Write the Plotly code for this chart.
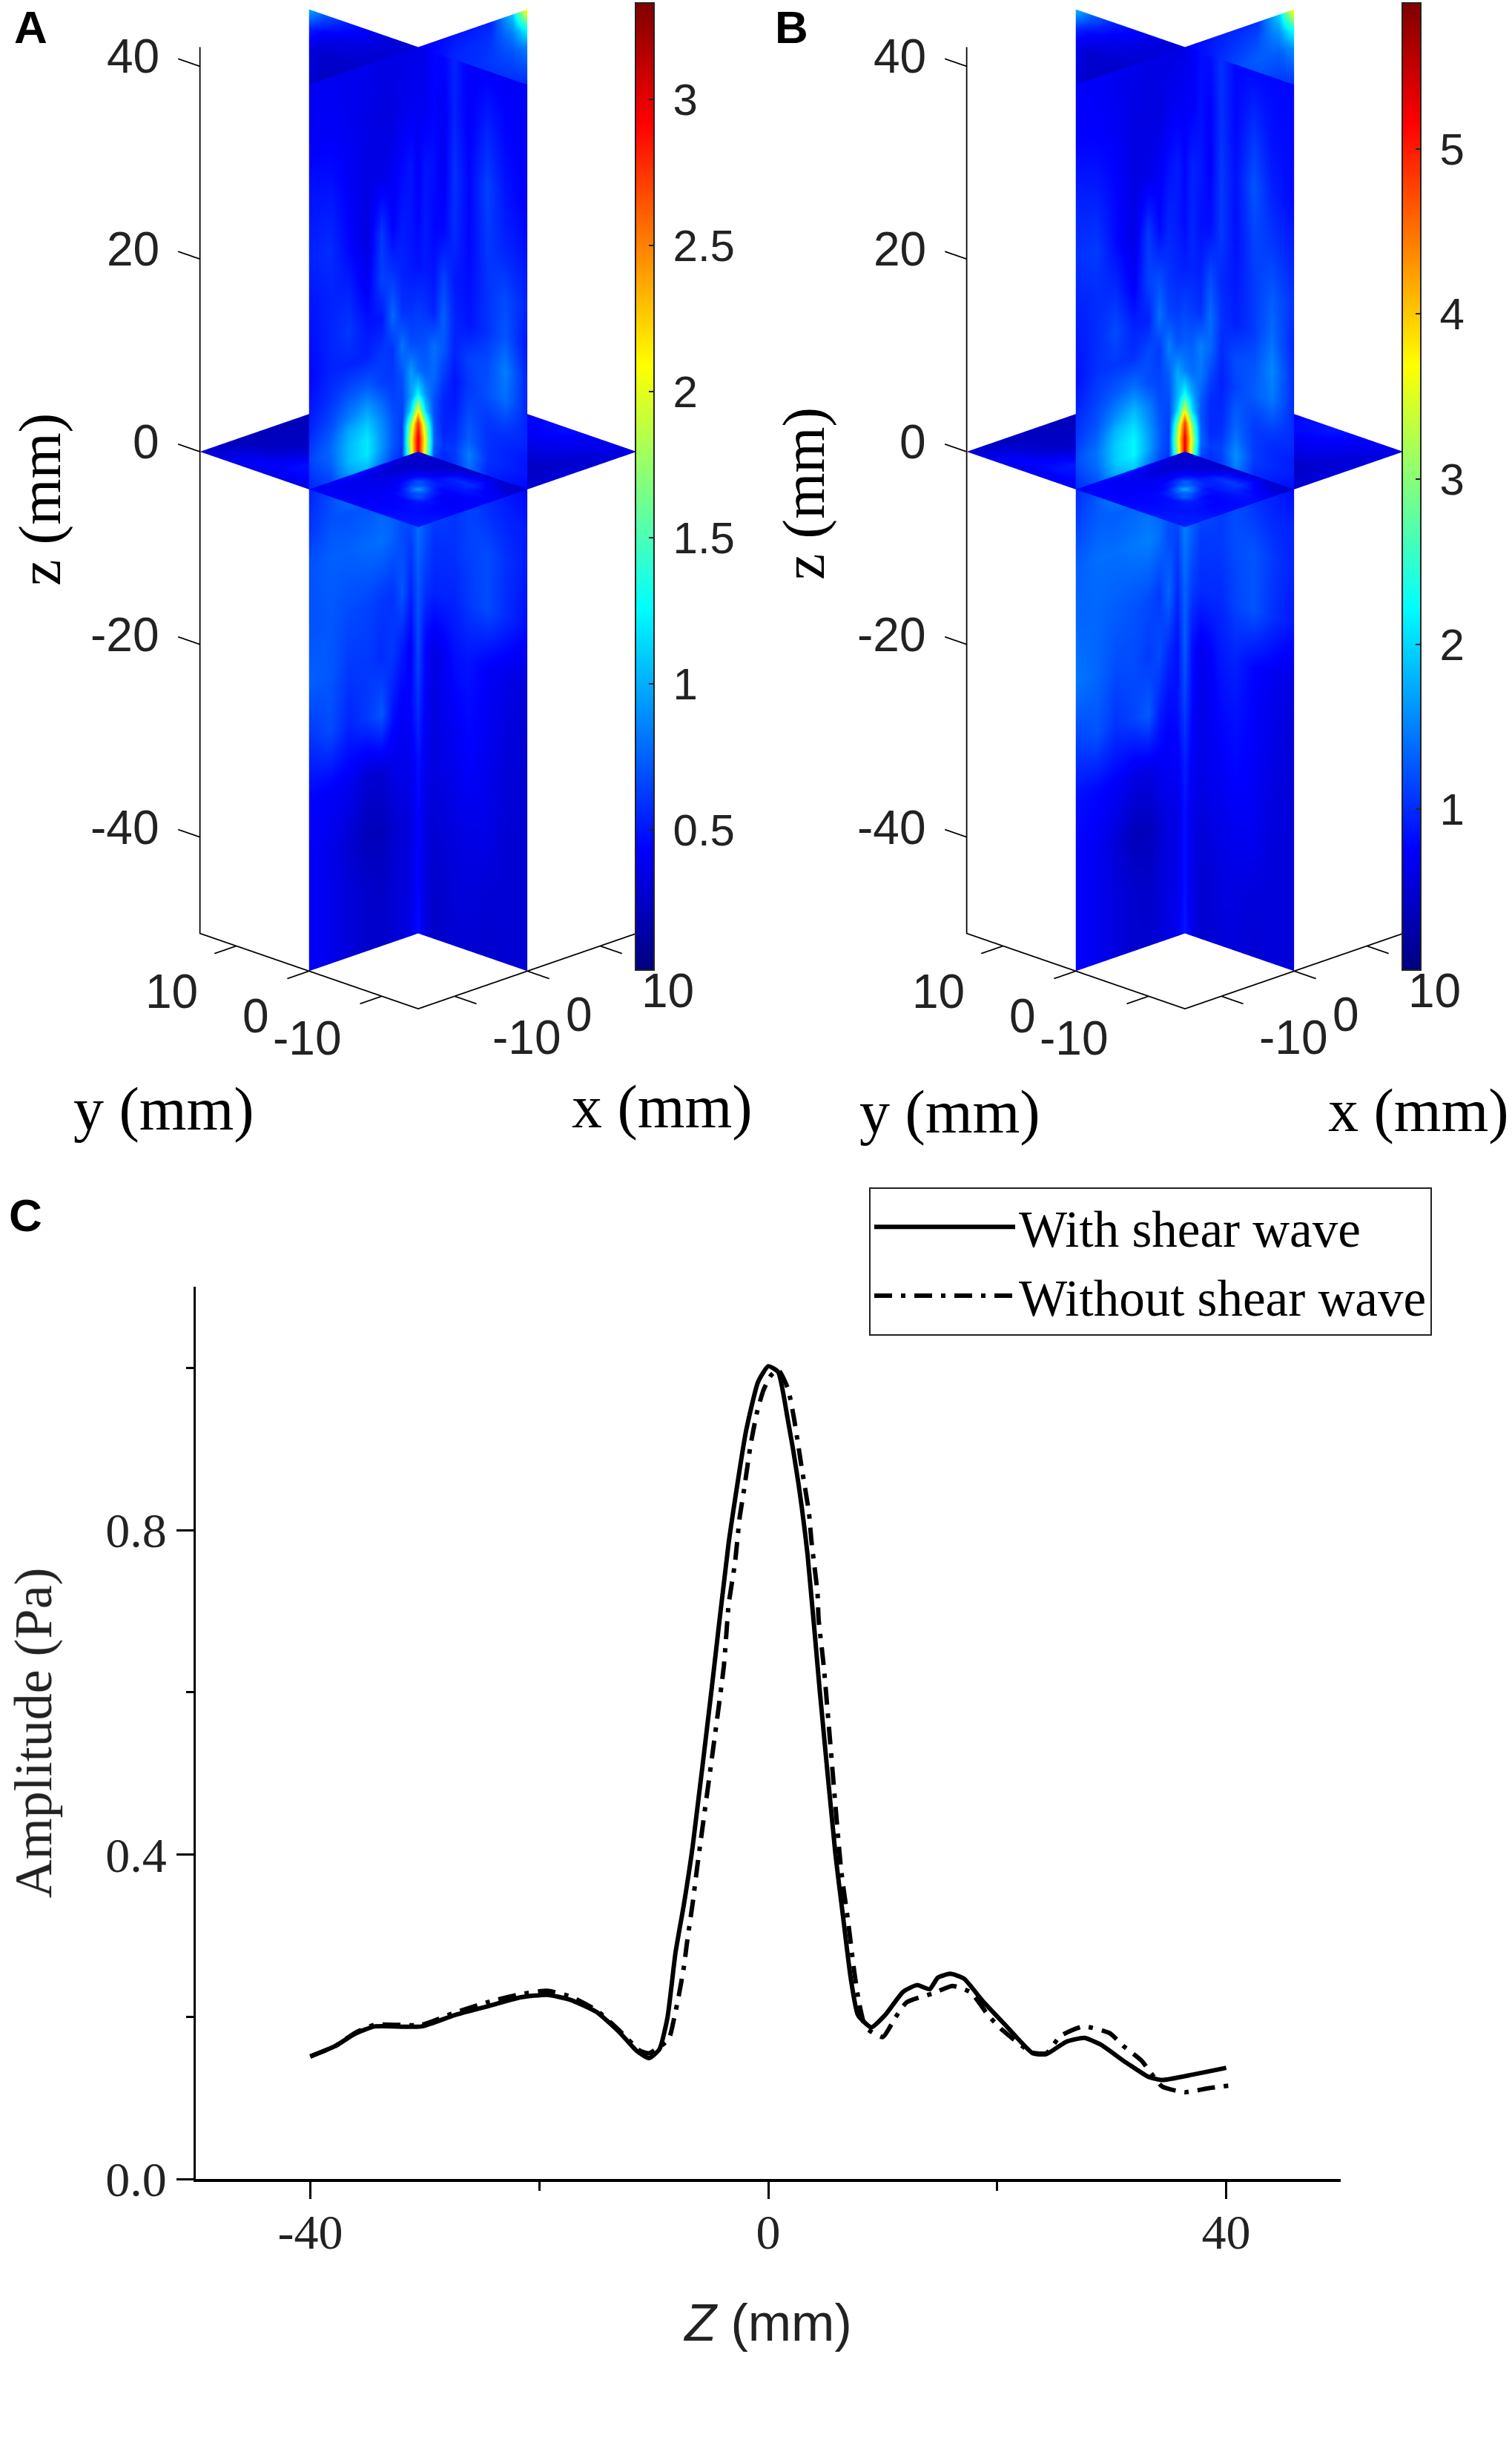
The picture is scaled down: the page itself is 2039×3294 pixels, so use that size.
import numpy as np
import plotly.graph_objects as go

W, H = 2039, 3294

# ---- panel C curves
z_with = [-40, -37.8, -36.1, -34.4, -30.3, -27.4, -24.5, -21.6, -19.3, -17.3, -15, -13, -11.5, -10.4, -9.5, -8.8, -8.1, -7.35, -6.6, -4.96, -3.46, -1.94, -0.88, 0, 0.86, 1.7, 2.6, 3.44, 4.5, 5.87, 6.53, 7.2, 7.84, 9.0, 10.2, 11.8, 13, 14.1, 14.8, 15.9, 17.1, 18.7, 20.7, 23.1, 24.3, 26, 27.6, 29, 31.2, 33.2, 34.4, 37.2, 40]
amp_with = [0.151, 0.164, 0.179, 0.188, 0.188, 0.202, 0.213, 0.224, 0.227, 0.221, 0.206, 0.181, 0.158, 0.149, 0.16, 0.199, 0.279, 0.34, 0.41, 0.602, 0.784, 0.922, 0.983, 1.002, 0.995, 0.937, 0.861, 0.769, 0.602, 0.40, 0.324, 0.248, 0.202, 0.187, 0.202, 0.231, 0.239, 0.234, 0.248, 0.253, 0.247, 0.22, 0.19, 0.155, 0.154, 0.169, 0.174, 0.166, 0.144, 0.126, 0.122, 0.129, 0.137]
z_without = [-40, -37.8, -36.1, -34.4, -30.3, -27.4, -24.5, -21.6, -19.3, -17.3, -15, -13, -11.2, -10.4, -8.7, -8.25, -7.8, -7.35, -7.1, -6.6, -6.2, -3.88, -3.46, -2.9, -2.5, -2.1, -1.53, -0.97, -0.43, 0.2, 0.86, 1.73, 2.26, 2.9, 3.56, 3.77, 4.3, 4.4, 4.85, 6.36, 7.0, 7.5, 7.9, 8.5, 10, 11.1, 12.1, 14.4, 16.1, 17.7, 19.2, 20.5, 23, 24.3, 25.5, 27.5, 29.8, 31.1, 32.6, 34.4, 36.4, 38.5, 40.2]
amp_without = [0.151, 0.164, 0.18, 0.19, 0.19, 0.205, 0.218, 0.228, 0.232, 0.225, 0.208, 0.183, 0.158, 0.155, 0.172, 0.196, 0.227, 0.263, 0.291, 0.34, 0.385, 0.632, 0.708, 0.76, 0.815, 0.851, 0.906, 0.946, 0.972, 0.99, 0.998, 0.974, 0.937, 0.879, 0.821, 0.787, 0.723, 0.69, 0.632, 0.382, 0.315, 0.257, 0.22, 0.187, 0.175, 0.199, 0.218, 0.229, 0.238, 0.23, 0.202, 0.183, 0.156, 0.155, 0.176, 0.188, 0.18, 0.163, 0.146, 0.114, 0.107, 0.112, 0.115]

# ---- slice grids (mm), shared by panels A and B
z_rows = [42, 36, 30, 24, 19, 15, 11.5, 8.5, 6, 4.5, 3, 1.5, 0, -4, -8, -14, -20, -26, -32, -38, -44, -50]
front_left_x = [-15, -12, -9.5, -7, -5, -3.5, -2.2, -1, 0]
front_right_y = [0, -1, -2.2, -3.5, -5, -7, -9.5, -12, -15]
tip_rows = [42, 40, 38, 34]
tip_left_y = [0, 5, 10, 13, 15]
tip_right_x = [0, 5, 10, 13, 15]
floor_x = [-15, -12.5, -10.5, -9, -7.5, -6, -4.5, -3, -1.5, 0, 5, 10, 15]
floor_y = [15, 10, 5, 0, -1.5, -3, -4.5, -6, -7.5, -9, -10.5, -12.5, -15]

# ---- panel A amplitudes
a_left = [
    [.40, .40, .38, .38, .36, .36, .36, .36, .36],
    [.42, .42, .40, .36, .34, .34, .38, .40, .40],
    [.50, .50, .42, .36, .36, .40, .46, .50, .42],
    [.55, .58, .45, .34, .62, .44, .52, .50, .45],
    [.50, .55, .55, .40, .65, .62, .55, .52, .50],
    [.48, .55, .62, .50, .50, .78, .60, .60, .62],
    [.45, .55, .55, .55, .62, .60, .82, .68, .68],
    [.50, .60, .70, .74, .64, .62, .70, .95, .80],
    [.55, .68, .85, .98, .80, .66, .66, .95, 1.25],
    [.60, .74, 1.0, 1.1, .88, .70, .64, 1.15, 2.0],
    [.65, .78, 1.05, 1.2, .92, .72, .62, 1.8, 2.75],
    [.60, .74, 1.05, 1.2, .92, .72, .62, 2.0, 3.0],
    [.55, .66, .95, 1.05, .82, .66, .58, 1.9, 3.0],
    [.60, .70, .70, .72, .75, .75, .70, .70, .70],
    [.70, .75, .75, .78, .80, .75, .68, .65, .80],
    [.70, .72, .68, .66, .62, .60, .72, .55, .72],
    [.75, .72, .62, .62, .58, .62, .52, .42, .68],
    [.60, .68, .55, .62, .72, .50, .42, .45, .60],
    [.45, .42, .40, .30, .30, .36, .38, .38, .48],
    [.42, .38, .30, .22, .22, .28, .32, .34, .45],
    [.42, .38, .32, .28, .26, .30, .32, .35, .45],
    [.42, .38, .32, .28, .28, .30, .34, .36, .48],
]
a_right = [
    [.36, .38, .45, .45, .55, .42, .42, .42, .42],
    [.40, .40, .45, .40, .55, .42, .55, .45, .42],
    [.42, .50, .48, .40, .60, .45, .65, .50, .42],
    [.45, .52, .45, .45, .58, .45, .62, .55, .50],
    [.50, .52, .50, .65, .52, .48, .60, .68, .55],
    [.62, .60, .55, .75, .55, .50, .60, .72, .50],
    [.68, .70, .80, .72, .55, .65, .68, .85, .55],
    [.80, .75, .78, .62, .50, .62, .70, .80, .55],
    [1.25, .95, .70, .55, .52, .68, .62, .65, .55],
    [2.0, 1.15, .68, .55, .55, .72, .60, .58, .55],
    [2.75, 1.8, .72, .55, .58, .75, .60, .55, .50],
    [3.0, 2.0, .75, .60, .62, .85, .60, .55, .50],
    [3.0, 1.9, .65, .55, .60, .80, .55, .50, .45],
    [.70, .70, .70, .65, .60, .65, .60, .55, .52],
    [.80, .70, .60, .60, .60, .65, .68, .60, .52],
    [.72, .60, .55, .55, .55, .62, .68, .58, .48],
    [.68, .45, .36, .40, .48, .50, .42, .38, .32],
    [.60, .42, .34, .38, .42, .46, .40, .34, .30],
    [.50, .38, .34, .36, .38, .42, .38, .32, .30],
    [.45, .34, .30, .32, .34, .36, .36, .30, .30],
    [.45, .34, .28, .28, .32, .32, .30, .30, .30],
    [.48, .34, .26, .28, .30, .30, .28, .30, .30],
]
a_tip_left = [
    [.30, .35, .55, .75, 1.0],
    [.28, .30, .36, .42, .55],
    [.25, .26, .28, .28, .36],
    [.25, .24, .24, .24, .30],
]
a_tip_right = [
    [.40, .50, .55, 1.1, 2.2],
    [.38, .55, .60, .85, 1.3],
    [.38, .55, .62, .70, .85],
    [.36, .52, .55, .55, .55],
]
a_floor = [
    [.30, .24, .22, .22, .22, .22, .22, .22, .22, .22, .40, .40, .40],
    [.40, .40, .30, .26, .24, .24, .24, .24, .24, .24, .40, .40, .40],
    [.36, .46, .48, .44, .36, .30, .28, .28, .28, .28, .40, .40, .40],
    [.40, .42, .46, .50, .50, .45, .40, .35, .30, .30, .40, .40, .40],
    [.42, .40, .38, .38, .34, .30, .28, .26, .28, .30, .36, .42, .44],
    [.42, .40, .38, .38, .36, .34, .30, .28, .26, .28, .34, .42, .46],
    [.42, .40, .40, .38, .40, .42, .42, .30, .26, .26, .32, .40, .48],
    [.42, .42, .42, .42, .55, .72, .48, .38, .30, .24, .30, .38, .50],
    [.44, .42, .44, .58, .95, .62, .50, .52, .38, .26, .28, .38, .46],
    [.46, .44, .46, .72, .60, .46, .50, .58, .42, .28, .26, .38, .42],
    [.48, .46, .50, .50, .42, .44, .52, .58, .46, .30, .26, .34, .40],
    [.50, .48, .45, .42, .42, .44, .48, .42, .34, .26, .26, .30, .38],
    [.50, .50, .46, .44, .44, .44, .42, .36, .28, .26, .34, .30, .34],
]

# ---- panel B amplitudes
b_left = [
    [.75, .72, .68, .65, .62, .62, .62, .62, .62],
    [.78, .76, .72, .62, .60, .60, .68, .72, .72],
    [.95, .92, .78, .62, .64, .72, .85, .92, .78],
    [1.05, 1.1, .82, .62, 1.1, .80, .98, .92, .82],
    [.95, 1.02, 1.02, .72, 1.15, 1.2, 1.05, .98, .95],
    [.90, 1.02, 1.2, .95, .95, 1.42, 1.15, 1.1, 1.15],
    [.85, 1.05, 1.08, 1.05, 1.2, 1.1, 1.5, 1.25, 1.3],
    [.95, 1.15, 1.3, 1.42, 1.2, 1.15, 1.3, 1.75, 1.5],
    [1.05, 1.25, 1.6, 1.85, 1.5, 1.2, 1.2, 1.8, 2.3],
    [1.1, 1.35, 1.85, 2.05, 1.6, 1.25, 1.15, 2.05, 3.4],
    [1.2, 1.45, 1.95, 2.2, 1.7, 1.3, 1.1, 3.0, 4.8],
    [1.1, 1.4, 1.95, 2.2, 1.7, 1.3, 1.1, 3.4, 5.2],
    [1.0, 1.25, 1.75, 1.95, 1.5, 1.2, 1.05, 3.1, 5.3],
    [1.15, 1.3, 1.3, 1.35, 1.4, 1.35, 1.25, 1.25, 1.25],
    [1.3, 1.4, 1.4, 1.45, 1.5, 1.4, 1.2, 1.15, 1.5],
    [1.35, 1.35, 1.3, 1.25, 1.2, 1.1, 1.35, 1.0, 1.35],
    [1.45, 1.35, 1.2, 1.2, 1.1, 1.2, 1.0, .85, 1.3],
    [1.15, 1.25, 1.05, 1.15, 1.3, .95, .80, .85, 1.15],
    [.85, .80, .75, .62, .60, .70, .72, .72, .95],
    [.78, .70, .55, .38, .38, .50, .60, .62, .85],
    [.78, .68, .58, .50, .46, .55, .60, .65, .85],
    [.78, .68, .58, .50, .50, .55, .62, .68, .90],
]
b_right = [
    [.65, .70, .85, .85, 1.05, .80, .80, .80, .80],
    [.72, .75, .85, .75, 1.05, .80, 1.05, .85, .80],
    [.78, .95, .90, .75, 1.1, .85, 1.25, .95, .80],
    [.82, .98, .85, .85, 1.1, .85, 1.15, 1.1, .95],
    [.95, .98, .95, 1.2, 1.0, .90, 1.1, 1.3, 1.05],
    [1.15, 1.1, 1.05, 1.4, 1.05, .95, 1.1, 1.4, .95],
    [1.3, 1.3, 1.5, 1.35, 1.0, 1.2, 1.25, 1.55, 1.0],
    [1.5, 1.4, 1.45, 1.15, .95, 1.15, 1.3, 1.45, 1.0],
    [2.3, 1.8, 1.3, 1.0, .98, 1.3, 1.15, 1.2, 1.0],
    [3.4, 2.05, 1.25, 1.0, 1.0, 1.35, 1.1, 1.05, 1.0],
    [4.8, 3.0, 1.3, 1.0, 1.05, 1.45, 1.1, 1.0, .92],
    [5.2, 3.4, 1.35, 1.1, 1.15, 1.6, 1.1, 1.0, .92],
    [5.3, 3.1, 1.15, 1.0, 1.1, 1.5, 1.0, .92, .82],
    [1.3, 1.3, 1.3, 1.2, 1.1, 1.2, 1.1, 1.0, .95],
    [1.5, 1.3, 1.1, 1.1, 1.1, 1.2, 1.25, 1.1, .95],
    [1.35, 1.1, 1.0, 1.0, 1.0, 1.15, 1.25, 1.05, .88],
    [1.3, .85, .68, .75, .90, .95, .78, .70, .60],
    [1.15, .80, .64, .70, .80, .85, .75, .64, .56],
    [.95, .72, .64, .68, .72, .78, .72, .60, .56],
    [.85, .64, .56, .60, .64, .68, .68, .56, .56],
    [.85, .64, .52, .52, .60, .60, .56, .56, .56],
    [.90, .64, .50, .52, .56, .56, .52, .56, .56],
]
b_tip_left = [
    [.55, .65, 1.0, 1.4, 1.85],
    [.50, .55, .65, .80, 1.0],
    [.46, .48, .50, .50, .65],
    [.46, .44, .44, .44, .55],
]
b_tip_right = [
    [.75, .95, 1.05, 2.0, 3.9],
    [.70, 1.0, 1.2, 1.6, 2.4],
    [.70, 1.1, 1.3, 1.3, 1.6],
    [.65, 1.0, 1.05, 1.0, 1.0],
]
b_floor = [
    [.55, .44, .40, .40, .40, .40, .40, .40, .40, .40, .72, .72, .72],
    [.74, .74, .55, .48, .44, .44, .44, .44, .44, .44, .72, .72, .72],
    [.66, .85, .90, .82, .66, .55, .52, .52, .52, .52, .72, .72, .72],
    [.74, .78, .85, .92, .92, .84, .74, .65, .56, .56, .72, .72, .72],
    [.78, .74, .70, .70, .62, .56, .52, .48, .52, .56, .66, .78, .82],
    [.78, .74, .70, .70, .66, .62, .56, .52, .50, .52, .62, .78, .85],
    [.78, .74, .74, .70, .74, .78, .78, .56, .50, .48, .60, .74, .90],
    [.78, .78, .78, .78, 1.0, 1.35, .90, .72, .56, .44, .56, .70, .92],
    [.82, .78, .82, 1.1, 1.8, 1.15, .95, 1.0, .72, .48, .52, .70, .85],
    [.85, .82, .85, 1.35, 1.1, .85, .95, 1.1, .80, .52, .48, .70, .78],
    [.90, .85, .92, .92, .78, .82, .98, 1.1, .85, .56, .48, .62, .74],
    [.92, .90, .85, .78, .78, .82, .90, .78, .62, .48, .48, .56, .70],
    [.92, .92, .85, .82, .82, .82, .78, .66, .52, .48, .62, .56, .62],
]

# ---- colour scale and tick labels
jet = [[0, "#00007f"], [0.125, "#0000ff"], [0.375, "#00ffff"], [0.625, "#ffff00"], [0.875, "#ff0000"], [1, "#7f0000"]]
a_ticks = [0.5, 1, 1.5, 2, 2.5, 3]
b_ticks = [1, 2, 3, 4, 5]
a_range = [0.02, 3.33]
b_range = [0.025, 5.885]
z_ticks = [40, 20, 0, -20, -40]
xy_ticks = [-10, 0, 10]

flat = dict(ambient=1, diffuse=0, specular=0, roughness=1, fresnel=0)
fig = go.Figure()


def px_x(v):
    return v / W


def px_y(v):
    return 1 - v / H


def add_surface(scene, xs, ys, zs, vals, rng, cbar=None):
    fig.add_trace(go.Surface(x=xs, y=ys, z=zs, surfacecolor=vals, cmin=rng[0], cmax=rng[1],
                             colorscale=jet, showscale=cbar is not None, colorbar=cbar,
                             lighting=flat, scene=scene, hoverinfo="skip"))


def add_panel(scene, cx, left, right, tip_l, tip_r, floor, rng, ticks):
    cbar = dict(x=px_x(cx + 293), xanchor="left", y=px_y(4), yanchor="top", lenmode="pixels", len=1304,
                thicknessmode="pixels", thickness=25, xpad=0, ypad=0, tickvals=ticks,
                ticktext=["\u2009" + str(t) for t in ticks], ticks="inside", ticklen=8,
                tickcolor="#222", tickwidth=2, outlinecolor="#222", outlinewidth=2,
                tickfont=dict(family="Liberation Sans", size=60, color="#222"))

    # y = 0 slice, front half
    xs = np.array(front_left_x)
    zs = np.array(z_rows)
    gx, gz = np.meshgrid(xs, zs)
    add_surface(scene, gx, np.zeros_like(gx), gz, left, rng, cbar)
    # x = 0 slice, front half
    ys = np.array(front_right_y)
    gy, gz = np.meshgrid(ys, zs)
    add_surface(scene, np.zeros_like(gy), gy, gz, right, rng)
    # back halves, only their tops show above the front halves
    gy, gz = np.meshgrid(np.array(tip_left_y), np.array(tip_rows))
    add_surface(scene, np.zeros_like(gy), gy, gz, tip_l, rng)
    gx, gz = np.meshgrid(np.array(tip_right_x), np.array(tip_rows))
    add_surface(scene, gx, np.zeros_like(gx), gz, tip_r, rng)
    # z = 0 slice
    gx, gy = np.meshgrid(np.array(floor_x), np.array(floor_y))
    add_surface(scene, gx, gy, np.zeros_like(gx), floor, rng)

    # hand drawn box axes, plotly's own gl axes can't be put on these edges
    line = dict(color="black", width=3.5)
    fig.add_trace(go.Scatter3d(x=[-15, -15, -15, 15], y=[15, 15, -15, -15], z=[42, -50, -50, -50], mode="lines",
                               line=line, scene=scene, showlegend=False, hoverinfo="skip"))
    for t in z_ticks:
        fig.add_trace(go.Scatter3d(x=[-15, -15], y=[15, 18], z=[t, t], mode="lines", line=line, scene=scene,
                                   showlegend=False, hoverinfo="skip"))
    for t in xy_ticks:
        fig.add_trace(go.Scatter3d(x=[-15, -18], y=[t, t], z=[-50, -50], mode="lines", line=line, scene=scene,
                                   showlegend=False, hoverinfo="skip"))
        fig.add_trace(go.Scatter3d(x=[t, t], y=[-15, -18], z=[-50, -50], mode="lines", line=line, scene=scene,
                                   showlegend=False, hoverinfo="skip"))


add_panel("scene", 564, a_left, a_right, a_tip_left, a_tip_right, a_floor, a_range, a_ticks)
add_panel("scene2", 1598, b_left, b_right, b_tip_left, b_tip_right, b_floor, b_range, b_ticks)

# panel C
fig.add_trace(go.Scatter(x=z_with, y=amp_with, mode="lines", name="With shear wave",
                         line=dict(color="black", width=6, shape="spline", smoothing=0.5)))
fig.add_trace(go.Scatter(x=z_without, y=amp_without, mode="lines", name="Without shear wave",
                         line=dict(color="black", width=6, dash="24px,12px,6px,12px", shape="spline", smoothing=0.5)))


def scene_notes():
    notes = []
    tick_font = dict(family="Liberation Sans", size=64, color="#222")
    for t in z_ticks:
        notes.append(dict(x=-15, y=15, z=t, text=str(t), showarrow=False, xanchor="right", xshift=-53, yshift=13, font=tick_font))
    y_shift = {10: (-87, -61), 0: (-72, -61), -10: (-100, -57)}
    x_shift = {-10: (97, -56), 0: (70, -59), 10: (91, -60)}
    for t in xy_ticks:
        notes.append(dict(x=-15, y=t, z=-50, text=str(t), showarrow=False, xshift=y_shift[t][0], yshift=y_shift[t][1], font=tick_font))
        notes.append(dict(x=t, y=-15, z=-50, text=str(t), showarrow=False, xshift=x_shift[t][0], yshift=x_shift[t][1], font=tick_font))
    return notes


def scene_layout(cx):
    half = 441
    return dict(
        domain=dict(x=[px_x(cx - half), px_x(cx + half)], y=[px_y(1400), 1]),
        xaxis=dict(visible=False, range=[-18.5, 18.5]),
        yaxis=dict(visible=False, range=[-18.5, 18.5]),
        zaxis=dict(visible=False, range=[-60, 46]),
        aspectmode="manual",
        aspectratio=dict(x=0.7335, y=0.7335, z=2.096),
        camera=dict(projection=dict(type="orthographic"), up=dict(x=0, y=0, z=1), center=dict(x=0, y=0, z=0),
                    eye=dict(x=-0.6767, y=-0.6767, z=0.352)),
        annotations=scene_notes(),
    )


serif = "Liberation Serif"
labels = [
    ("A", 41, 36, "Liberation Sans", 62, 0, True),
    ("B", 1067, 36, "Liberation Sans", 62, 0, True),
    ("C", 34, 1638, "Liberation Sans", 62, 0, True),
    ("z (mm)", 55, 674, serif, 80, -90, False),
    ("z (mm)", 1084, 666, serif, 80, -90, False),
    ("y (mm)", 221, 1495, serif, 82, 0, False),
    ("x (mm)", 893, 1493, serif, 82, 0, False),
    ("y (mm)", 1281, 1499, serif, 82, 0, False),
    ("x (mm)", 1913, 1497, serif, 82, 0, False),
]
for text, ax, ay, fam, size, angle, bold in labels:
    fig.add_annotation(x=px_x(ax), y=px_y(ay), xref="paper", yref="paper", showarrow=False, text=f"<b>{text}</b>" if bold else text,
                       textangle=angle, font=dict(family=fam, size=size, color="black"), xanchor="center", yanchor="middle")

fig.update_layout(
    width=W, height=H, margin=dict(l=0, r=0, t=0, b=0, autoexpand=False), paper_bgcolor="white", plot_bgcolor="white",
    scene=scene_layout(564), scene2=scene_layout(1598),
    xaxis=dict(domain=[px_x(264), px_x(1808)], range=[-50, 50], anchor="y", showgrid=False, zeroline=False,
               showline=True, linecolor="black", linewidth=4, ticks="outside", ticklen=23, tickwidth=3, tickcolor="black",
               tickvals=[-40, 0, 40], ticktext=["-40", "0", "40"], ticklabelstandoff=-12,
               tickfont=dict(family=serif, size=66, color="#222"),
               minor=dict(tickvals=[-20, 20], ticks="outside", ticklen=12, tickwidth=3, tickcolor="black"),
               title=dict(text="<i>Z</i> (mm)", font=dict(family="Liberation Sans", size=70, color="#222"), standoff=63)),
    yaxis=dict(domain=[px_y(2938), px_y(1735)], range=[0, 1.1], anchor="x", showgrid=False, zeroline=False,
               showline=True, linecolor="black", linewidth=3, ticks="outside", ticklen=23, tickwidth=3, tickcolor="black",
               tickvals=[0, 0.4, 0.8], ticktext=["0.0", "0.4", "0.8"],
               tickfont=dict(family=serif, size=66, color="#222"),
               minor=dict(tickvals=[0.2, 0.6, 1.0], ticks="outside", ticklen=10, tickwidth=3, tickcolor="black"),
               title=dict(text="Amplitude (Pa)", font=dict(family=serif, size=72, color="#222"), standoff=50)),
    legend=dict(x=px_x(1172), y=px_y(1601), xanchor="left", yanchor="top", bordercolor="#222", borderwidth=2, bgcolor="white",
                font=dict(family=serif, size=69, color="black"), itemwidth=190),
    showlegend=True,
)
fig.write_html("out.html", post_script="document.body.style.margin='0';", config=dict(displayModeBar=False))
